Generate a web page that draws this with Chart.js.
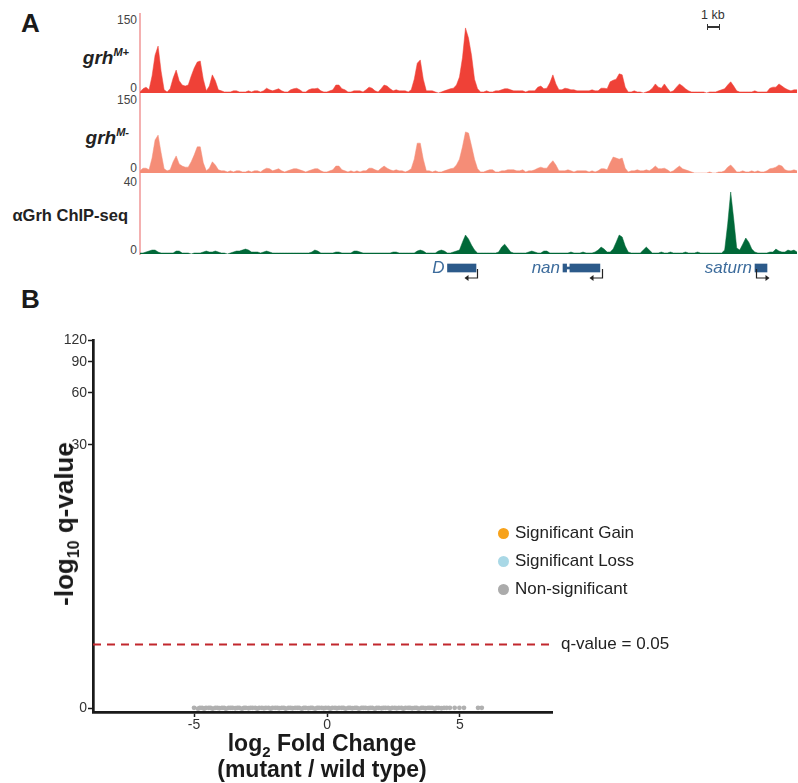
<!DOCTYPE html>
<html>
<head>
<meta charset="utf-8">
<script src="https://cdn.jsdelivr.net/npm/chart.js@4.4.1/dist/chart.umd.min.js"></script>
<style>
  body { margin: 0; width: 798px; height: 783px; position: relative; background: #fff; overflow: hidden;
         font-family: "Liberation Sans", Arial, sans-serif; color: #222; }
  canvas { position: absolute; }
  .t { position: absolute; white-space: nowrap; }
  .panel { font-size: 26px; font-weight: bold; color: #1a1a1a; }
  .tick { font-size: 12px; color: #444; width: 40px; text-align: right; left: 97px; line-height: 12px; }
  .track { font-weight: bold; font-style: italic; font-size: 19px; right: 669px; text-align: right; }
  .track sup { font-size: 11px; vertical-align: 8px; line-height: 0; }
  .leg { font-size: 17px; color: #222; line-height: 20px; }
  .dot { position: absolute; width: 11px; height: 11px; border-radius: 50%; }
  .sub { position: relative; font-size: 15px; line-height: 0; }
</style>
</head>
<body>
<div class="t panel" style="left:21px;top:8px;">A</div>
<div class="t panel" style="left:21px;top:284px;">B</div>

<div class="t track" style="top:47px;">grh<sup>M+</sup></div>
<div class="t track" style="top:127px;">grh<sup>M-</sup></div>
<div class="t" style="right:670px;top:206px;font-weight:bold;font-size:16.5px;">αGrh ChIP-seq</div>

<div class="t tick" style="top:14px;">150</div>
<div class="t tick" style="top:82px;">0</div>
<div class="t tick" style="top:94px;">150</div>
<div class="t tick" style="top:162px;">0</div>
<div class="t tick" style="top:176px;">40</div>
<div class="t tick" style="top:244px;">0</div>
<div class="t" style="left:139px;top:13px;width:1.5px;height:242px;background:#f4b0b0;"></div>

<div class="t" style="left:701px;top:8px;font-size:12.5px;color:#333;">1 kb</div>
<div class="t" style="left:707px;top:26px;width:13px;height:1.5px;background:#333;"></div>
<div class="t" style="left:707px;top:24px;width:1.3px;height:6px;background:#333;"></div>
<div class="t" style="left:719px;top:24px;width:1.3px;height:6px;background:#333;"></div>

<canvas id="trackPlus" width="657" height="80" style="left:140px;top:13px;"></canvas>
<canvas id="trackMinus" width="657" height="80" style="left:140px;top:93px;"></canvas>
<canvas id="trackChip" width="657" height="79" style="left:140px;top:175px;"></canvas>
<canvas id="genes" width="657" height="30" style="left:140px;top:253px;"></canvas>

<canvas id="volcano" width="798" height="463" style="left:0;top:320px;"></canvas>

<div class="t" style="left:64px;top:524px;transform:translate(-50%,-50%) rotate(-90deg);font-weight:bold;font-size:26px;line-height:30px;color:#1a1a1a;">-log<span class="sub" style="top:6px;font-size:16px;">10</span> q-value</div>
<div class="t" style="left:322px;top:730px;transform:translateX(-50%);font-weight:bold;font-size:23px;line-height:26px;text-align:center;color:#1a1a1a;">log<span class="sub" style="top:6px;">2</span> Fold Change<br>(mutant / wild type)</div>

<div class="dot" style="left:498px;top:528px;background:#f7a21b;"></div>
<div class="t leg" style="left:515px;top:523px;">Significant Gain</div>
<div class="dot" style="left:498px;top:556px;background:#a9d8e6;"></div>
<div class="t leg" style="left:515px;top:551px;">Significant Loss</div>
<div class="dot" style="left:498px;top:584px;background:#ababab;"></div>
<div class="t leg" style="left:515px;top:579px;">Non-significant</div>

<script>
// coverage per 3px genomic bin
const grhPlus = [
  2,8,11,6,32,71,88,41,6,2, 8,28,43,23,15,13,15,32,47,58, 60,26,4,13,34,23,6,4,2,2,
  2,4,4,2,2,2,4,2,4,4, 2,4,9,6,4,6,8,4,2,2, 6,8,9,6,2,2,6,8,8,9,
  4,2,2,4,6,15,15,8,6,2, 2,4,4,4,2,6,11,9,4,2, 8,15,13,8,4,6,4,4,4,2,
  6,26,56,62,26,4,4,4,2,0, 2,4,6,8,9,15,30,66,122,103, 71,26,8,2,2,4,2,2,4,4,
  6,8,8,6,4,4,4,4,2,4, 4,4,11,13,8,9,19,34,17,6, 6,9,8,6,6,4,4,4,4,4,
  6,4,4,9,9,8,21,24,26,36, 34,11,2,2,4,2,2,0,2,4, 9,17,11,9,17,9,2,4,11,17,
  13,8,4,2,2,2,2,2,0,2, 2,2,4,6,8,15,21,13,4,2, 2,2,2,2,4,2,2,2,2,9,
  11,11,17,13,9,6,4,6,6
];
const grhMinus = [
  4,9,9,6,28,62,71,38,8,4, 6,21,32,17,13,11,11,21,34,49, 49,19,4,9,21,15,6,4,4,2,
  4,2,4,4,2,2,4,2,4,4, 2,6,9,8,4,6,8,4,2,4, 6,8,8,6,4,2,4,6,8,8,
  4,2,2,4,6,13,13,6,4,2, 4,2,4,2,4,4,9,9,6,4, 9,13,9,6,4,6,4,4,2,4,
  8,26,56,56,26,4,4,2,4,2, 2,4,6,8,9,15,26,49,77,75, 51,26,8,2,2,4,6,6,2,2,
  4,4,6,6,6,4,4,6,2,4, 4,6,9,11,9,9,17,23,15,4, 4,4,6,4,2,4,4,4,4,2,
  4,2,4,8,8,6,19,30,28,26, 28,9,2,4,4,6,4,4,6,4, 8,13,8,8,9,6,2,4,9,13,
  8,6,4,2,0,0,0,0,0,2, 0,0,2,2,4,11,15,9,2,2, 4,2,2,4,2,4,2,2,4,8,
  9,11,15,13,6,4,4,6,4
];
const grhChip = [
  0.5,0.5,1,1.5,2,2,1,0.5,0.5,0.5, 0.5,0.5,1.5,1.5,0.5,0.5,0.5,0,0.5,0.5, 0.5,1,1.5,1,1,1.5,1,0.5,0.5,0,
  0.5,1,1.5,1.5,2,2.5,2,1,1,1, 0.5,1,1.5,1,0.5,0.5,0.5,0.5,0.5,0.5, 0.5,0.5,0.5,0.5,0.5,0.5,0.5,1,2,1.5,
  0.5,0.5,0.5,0.5,0.5,1,1,0.5,0.5,0.5, 0.5,1.5,1.5,1,0.5,0.5,0.5,0.5,0.5,0.5, 0.5,0.5,0.5,0.5,1,1,0.5,0.5,0.5,0.5,
  0.5,0.5,1.5,2,1.5,0.5,0.5,0.5,0.5,1.5, 2,1.5,0.5,0.5,1,1.5,2,6,9.6,7.6, 4.5,2,0.5,0.5,0.5,0.5,0.5,0.5,0.5,1,
  3.5,5,3,1,0.5,0.5,0.5,0.5,0.5,1, 1.5,1,0.5,0.5,1.5,1.5,0.5,0.5,0.5,0.5, 0.5,0.5,0.5,1,0.5,0.5,0.5,1,0.5,0.5,
  0.5,1,2,3.5,2.5,1,1,2.5,6,9.6, 8.6,4,1,0.5,0.5,0.5,0.5,2,3.5,2, 0.5,0.5,0.5,1,0.5,0.5,1,0.5,0.5,0.5,
  0.5,1,0.5,0.5,0.5,1,0.5,0.5,0.5,0.5, 0.5,0.5,0.5,0.5,2,15.2,31.4,17.7,3,2, 5,8.1,6,2.5,1,0.5,0.5,0.5,0.5,1,
  1,2.5,1.5,1,1,2,1.5,2,1
];

// gene models, in the same bin units
const geneNames = ['D', 'nan', 'saturn'];
const geneLabelAt = [102.5, 141, 205];
const exonStart = [102.5, 141, 143.3, 205];
const exonEnd = [112, 142.2, 153.3, 209];
const intronStart = [142.2];
const intronEnd = [143.3];
const tssAt = [112.3, 154, 205.3];
const strand = [-1, -1, 1];

// volcano plot
const xTicks = [-5, 0, 5];
const yTickLabels = [0, 30, 60, 90, 120];
const qCut = 0.05;
const gainFold = [];
const gainQ = [];
const lossFold = [];
const lossQ = [];
const nsFold = [
  -5.0,-4.85,-4.78,-4.7,-4.62,-4.55,-4.45,-4.38,-4.3,-4.2,-4.12,-4.05,-3.95,-3.87,-3.8,-3.7,-3.62,-3.55,-3.45,-3.37,
  -3.3,-3.2,-3.12,-3.05,-2.95,-2.88,-2.8,-2.7,-2.62,-2.55,-2.45,-2.37,-2.3,-2.2,-2.12,-2.05,-1.95,-1.87,-1.8,-1.7,
  -1.62,-1.55,-1.45,-1.37,-1.3,-1.2,-1.12,-1.05,-0.95,-0.87,-0.8,-0.7,-0.62,-0.55,-0.45,-0.37,-0.3,-0.2,-0.12,-0.05,
  0.05,0.12,0.2,0.3,0.37,0.45,0.55,0.62,0.7,0.8,0.87,0.95,1.05,1.12,1.2,1.3,1.37,1.45,1.55,1.62,
  1.7,1.8,1.87,1.95,2.05,2.12,2.2,2.3,2.37,2.45,2.55,2.62,2.7,2.8,2.87,2.95,3.05,3.12,3.2,3.3,
  3.37,3.45,3.55,3.62,3.7,3.8,3.87,3.95,4.05,4.12,4.2,4.3,4.4,4.5,4.62,4.8,4.98,5.15,5.68,5.82
];
const nsQ = [
  0.01,0,0.01,0.01,0,0.01,0.01,0.01,0,0.01,0.01,0.005,0.01,0.01,0,0.01,0.01,0.01,0.005,0.01,
  0.01,0,0.01,0.01,0.005,0.01,0.01,0.01,0,0.01,0.01,0.005,0.01,0.01,0,0.01,0.01,0.01,0.005,0.01,
  0.01,0,0.01,0.01,0.005,0.01,0.01,0.01,0,0.01,0.01,0.005,0.01,0.01,0,0.01,0.01,0.01,0.005,0.01,
  0.01,0,0.01,0.01,0.005,0.01,0.01,0.01,0,0.01,0.01,0.005,0.01,0.01,0,0.01,0.01,0.01,0.005,0.01,
  0.01,0,0.01,0.01,0.005,0.01,0.01,0.01,0,0.01,0.01,0.005,0.01,0.01,0,0.01,0.01,0.01,0.005,0.01,
  0.01,0,0.01,0.01,0.005,0.01,0.01,0.01,0,0.01,0.01,0.005,0.01,0.01,0.01,0.01,0.01,0.01,0.01,0.01
];
const xMin = -8.8, xMax = 8.46;

Chart.defaults.font.family = "'Liberation Sans', Arial, sans-serif";
Chart.defaults.animation = false;

const bins = grhPlus.map((v, i) => i);

function trackChart(id, values, color, max) {
  new Chart(document.getElementById(id), {
    type: 'line',
    data: {
      labels: bins,
      datasets: [{ data: values, backgroundColor: color, borderColor: color, borderWidth: 0.5,
                   fill: 'origin', pointRadius: 0, tension: 0 }]
    },
    options: {
      responsive: false,
      devicePixelRatio: 1,
      layout: { padding: 0 },
      plugins: { legend: { display: false }, tooltip: { enabled: false } },
      scales: {
        x: { display: false },
        y: { display: false, min: 0, max: max }
      }
    }
  });
}
trackChart('trackPlus', grhPlus, '#ef4137', 150);
trackChart('trackMinus', grhMinus, '#f58d77', 150);
trackChart('trackChip', grhChip, '#006838', 40);

// gene labels + strand arrows
const geneDecor = {
  id: 'geneDecor',
  afterDatasetsDraw(chart) {
    const { ctx, scales: { x, y } } = chart;
    const yc = y.getPixelForValue(1);
    ctx.save();
    ctx.fillStyle = '#3d6c9c';
    ctx.font = 'italic 17px "Liberation Sans", Arial, sans-serif';
    ctx.textAlign = 'right';
    ctx.textBaseline = 'middle';
    geneNames.forEach((n, i) => ctx.fillText(n, x.getPixelForValue(geneLabelAt[i]) - 3, yc));
    ctx.strokeStyle = '#222';
    ctx.fillStyle = '#222';
    ctx.lineWidth = 1.2;
    tssAt.forEach((t, i) => {
      const px = Math.round(x.getPixelForValue(t)) + 0.5;
      const yb = yc + 10;
      const end = px + strand[i] * 10;
      ctx.beginPath();
      ctx.moveTo(px, yc + 1);
      ctx.lineTo(px, yb);
      ctx.lineTo(end, yb);
      ctx.stroke();
      ctx.beginPath();
      ctx.moveTo(end + strand[i] * 3, yb);
      ctx.lineTo(end - strand[i] * 1, yb - 3);
      ctx.lineTo(end - strand[i] * 1, yb + 3);
      ctx.closePath();
      ctx.fill();
    });
    ctx.restore();
  }
};

new Chart(document.getElementById('genes'), {
  type: 'bar',
  data: {
    datasets: [
      { data: intronStart.map((s, i) => ({ x: [s, intronEnd[i]], y: 1 })), backgroundColor: '#2c5a8a', barThickness: 2, grouped: false },
      { data: exonStart.map((s, i) => ({ x: [s, exonEnd[i]], y: 1 })), backgroundColor: '#2c5a8a', barThickness: 8, grouped: false }
    ]
  },
  options: {
    indexAxis: 'y',
    responsive: false,
    devicePixelRatio: 1,
    layout: { padding: 0 },
    plugins: { legend: { display: false }, tooltip: { enabled: false } },
    scales: {
      x: { type: 'linear', display: false, min: 0, max: bins.length },
      y: { type: 'linear', display: false, min: 0, max: 2 }
    }
  },
  plugins: [geneDecor]
});

const tf = v => Math.log10(1 + v);
const qLine = tf(-Math.log10(qCut));

const qLabel = {
  id: 'qLabel',
  afterDraw(chart) {
    const { ctx, chartArea, scales: { y } } = chart;
    ctx.save();
    ctx.fillStyle = '#222';
    ctx.font = '17px "Liberation Sans", Arial, sans-serif';
    ctx.textBaseline = 'middle';
    ctx.fillText('q-value = 0.05', chartArea.right + 9, y.getPixelForValue(qLine));
    ctx.restore();
  }
};

const axisStyle = {
  grid: { drawOnChartArea: false, drawTicks: true, tickLength: 5, tickColor: '#1a1a1a', tickWidth: 1.5 },
  border: { display: true, color: '#1a1a1a', width: 2.7 }
};

new Chart(document.getElementById('volcano'), {
  type: 'scatter',
  data: {
    datasets: [
      { label: 'Significant Gain', data: gainFold.map((x, i) => ({ x, y: tf(gainQ[i]) })), backgroundColor: '#f7a21b', pointRadius: 2, borderWidth: 0 },
      { label: 'Significant Loss', data: lossFold.map((x, i) => ({ x, y: tf(lossQ[i]) })), backgroundColor: '#a9d8e6', pointRadius: 2, borderWidth: 0 },
      { label: 'Non-significant', data: nsFold.map((x, i) => ({ x, y: tf(nsQ[i]) })), backgroundColor: '#b0b0b0', pointRadius: 2.4, borderWidth: 0 },
      { type: 'line', label: 'q-value = 0.05',
        data: [{ x: xMin, y: qLine }, { x: xMax, y: qLine }],
        borderColor: '#c1272d', borderWidth: 2, borderDash: [8, 6], pointRadius: 0, fill: false }
    ]
  },
  options: {
    responsive: false,
    devicePixelRatio: 1,
    layout: { padding: { top: 20, right: 246, left: 0, bottom: 0 } },
    plugins: { legend: { display: false }, tooltip: { enabled: false } },
    scales: {
      x: {
        type: 'linear', min: xMin, max: xMax,
        afterBuildTicks: s => { s.ticks = xTicks.map(v => ({ value: v })); },
        afterFit: s => { s.height = 71; },
        ...axisStyle,
        ticks: { color: '#333', font: { size: 14 }, padding: 0, maxRotation: 0 }
      },
      y: {
        type: 'linear', min: -0.019, max: tf(120),
        afterBuildTicks: s => { s.ticks = yTickLabels.map(v => ({ value: tf(v) })); },
        afterFit: s => { s.width = 93; },
        ...axisStyle,
        ticks: { color: '#333', font: { size: 14 }, padding: 1, callback: (v, i) => yTickLabels[i] }
      }
    }
  },
  plugins: [qLabel]
});
</script>
</body>
</html>
